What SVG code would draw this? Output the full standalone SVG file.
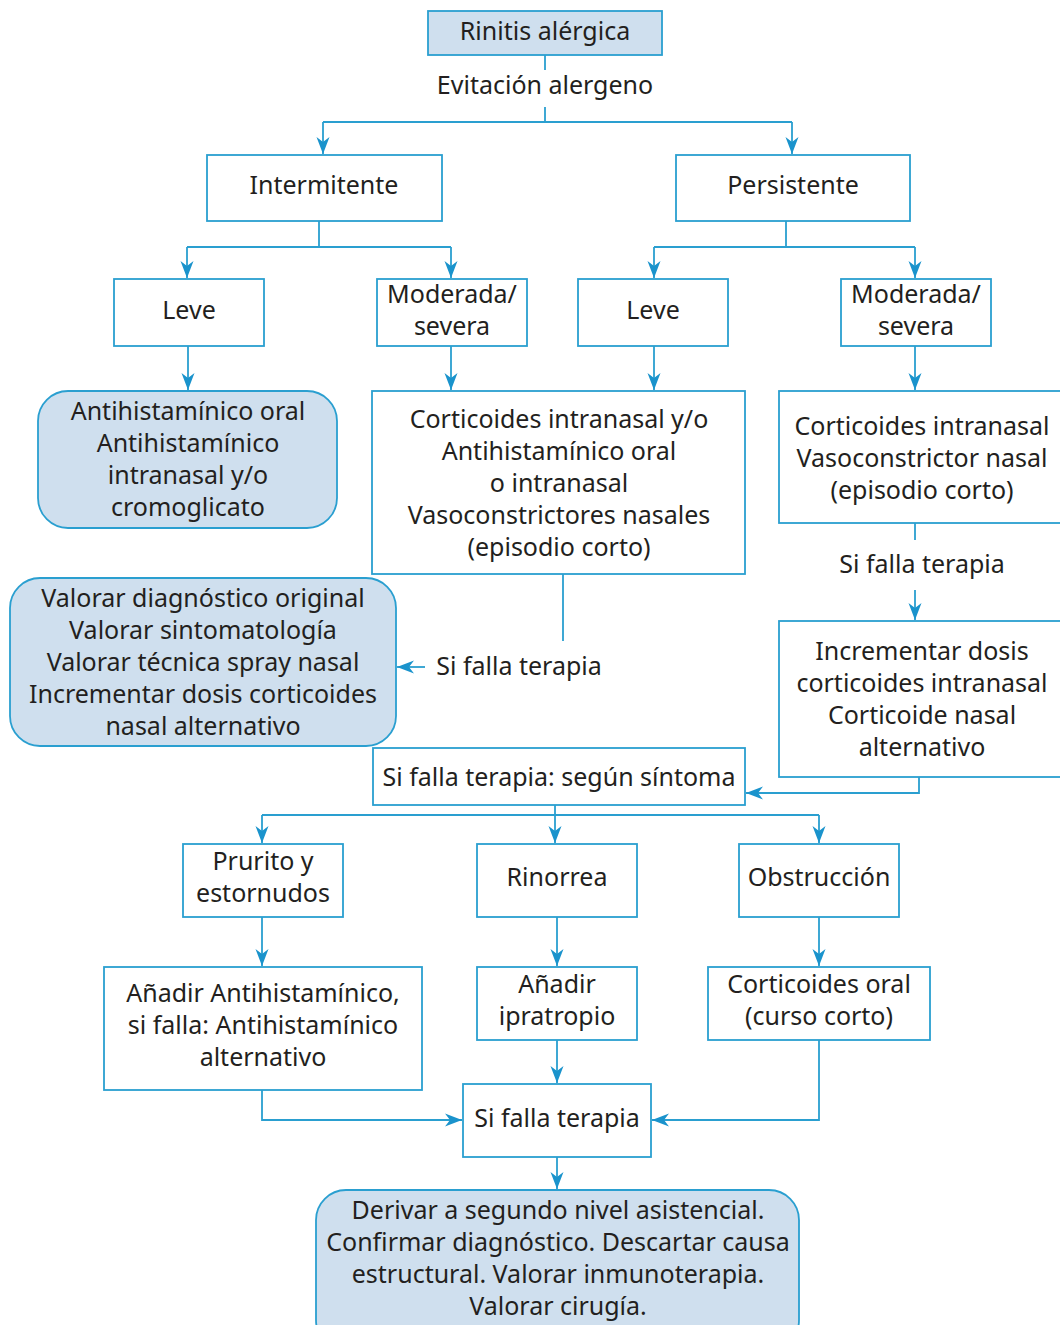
<svg xmlns="http://www.w3.org/2000/svg" width="1060" height="1325" viewBox="0 0 1060 1325">
<style>
.b{fill:#fff;stroke:#2a9fd0;stroke-width:1.8}
.f{fill:#cfdfee;stroke:#2a9fd0;stroke-width:1.8}
text{font-family:"Noto Sans","Open Sans",sans-serif;font-size:25px;fill:#231f20;text-anchor:middle}
.c{fill:none;stroke:#2a9fd0;stroke-width:1.8}
</style>
<defs>
<marker id="a" markerWidth="20" markerHeight="16" refX="17" refY="8" orient="auto" markerUnits="userSpaceOnUse">
<path d="M0,1.5 L17,8 L0,14.5 L5,8 Z" fill="#1a93cc"/>
</marker>
</defs>
<rect width="1060" height="1325" fill="#fff"/>
<g id="connectors">
<path class="c" d="M545,55 V70"/>
<path class="c" d="M545,107 V122"/>
<path class="c" d="M323,122 H792"/>
<path class="c" d="M323,122 V154" marker-end="url(#a)"/>
<path class="c" d="M792,122 V154" marker-end="url(#a)"/>
<path class="c" d="M319,221 V247 M187,247 H451"/>
<path class="c" d="M187,247 V278" marker-end="url(#a)"/>
<path class="c" d="M451,247 V278" marker-end="url(#a)"/>
<path class="c" d="M786,221 V247 M654,247 H915"/>
<path class="c" d="M654,247 V278" marker-end="url(#a)"/>
<path class="c" d="M915,247 V278" marker-end="url(#a)"/>
<path class="c" d="M188,346 V390" marker-end="url(#a)"/>
<path class="c" d="M451,346 V390" marker-end="url(#a)"/>
<path class="c" d="M654,346 V390" marker-end="url(#a)"/>
<path class="c" d="M915,346 V390" marker-end="url(#a)"/>
<path class="c" d="M915,523 V540"/>
<path class="c" d="M915,590 V620" marker-end="url(#a)"/>
<path class="c" d="M919,777 V793 H746" marker-end="url(#a)"/>
<path class="c" d="M563,574 V641"/>
<path class="c" d="M425,667 H397" marker-end="url(#a)"/>
<path class="c" d="M555,805 V815 M262,815 H819"/>
<path class="c" d="M262,815 V843" marker-end="url(#a)"/>
<path class="c" d="M555,815 V843" marker-end="url(#a)"/>
<path class="c" d="M819,815 V843" marker-end="url(#a)"/>
<path class="c" d="M262,917 V966" marker-end="url(#a)"/>
<path class="c" d="M557,917 V966" marker-end="url(#a)"/>
<path class="c" d="M819,917 V966" marker-end="url(#a)"/>
<path class="c" d="M557,1040 V1083" marker-end="url(#a)"/>
<path class="c" d="M262,1090 V1120 H462" marker-end="url(#a)"/>
<path class="c" d="M819,1040 V1120 H652" marker-end="url(#a)"/>
<path class="c" d="M557,1157 V1189" marker-end="url(#a)"/>
</g>
<g id="n-rinitis"><rect class="f" x="428" y="11" width="234" height="44"/><text x="545" y="40">Rinitis alérgica</text></g>
<g id="l-evitacion"><text x="545" y="94">Evitación alergeno</text></g>
<g id="n-intermitente"><rect class="b" x="207" y="155" width="235" height="66"/><text x="324" y="194">Intermitente</text></g>
<g id="n-persistente"><rect class="b" x="676" y="155" width="234" height="66"/><text x="793" y="194">Persistente</text></g>
<g id="n-leve1"><rect class="b" x="114" y="279" width="150" height="67"/><text x="189" y="319">Leve</text></g>
<g id="n-mod1"><rect class="b" x="377" y="279" width="150" height="67"/><text x="452" y="303">Moderada/</text><text x="452" y="335">severa</text></g>
<g id="n-leve2"><rect class="b" x="578" y="279" width="150" height="67"/><text x="653" y="319">Leve</text></g>
<g id="n-mod2"><rect class="b" x="841" y="279" width="150" height="67"/><text x="916" y="303">Moderada/</text><text x="916" y="335">severa</text></g>
<g id="n-antihist"><rect class="f" x="38" y="391" width="299" height="137" rx="30"/><text x="188" y="420">Antihistamínico oral</text><text x="188" y="452">Antihistamínico</text><text x="188" y="484">intranasal y/o</text><text x="188" y="516">cromoglicato</text></g>
<g id="n-cortic1"><rect class="b" x="372" y="391" width="373" height="183"/><text x="559" y="428">Corticoides intranasal y/o</text><text x="559" y="460">Antihistamínico oral</text><text x="559" y="492">o intranasal</text><text x="559" y="524">Vasoconstrictores nasales</text><text x="559" y="556">(episodio corto)</text></g>
<g id="n-cortic2"><rect class="b" x="779" y="391" width="290" height="132"/><text x="922" y="435">Corticoides intranasal</text><text x="922" y="467">Vasoconstrictor nasal</text><text x="922" y="499">(episodio corto)</text></g>
<g id="l-sifalla1"><text x="922" y="573">Si falla terapia</text></g>
<g id="n-incrementar"><rect class="b" x="779" y="621" width="290" height="156"/><text x="922" y="660">Incrementar dosis</text><text x="922" y="692">corticoides intranasal</text><text x="922" y="724">Corticoide nasal</text><text x="922" y="756">alternativo</text></g>
<g id="l-sifalla2"><text x="519" y="675">Si falla terapia</text></g>
<g id="n-valorar"><rect class="f" x="10" y="578" width="386" height="168" rx="30"/><text x="203" y="607">Valorar diagnóstico original</text><text x="203" y="639">Valorar sintomatología</text><text x="203" y="671">Valorar técnica spray nasal</text><text x="203" y="703">Incrementar dosis corticoides</text><text x="203" y="735">nasal alternativo</text></g>
<g id="n-segun"><rect class="b" x="373" y="748" width="372" height="57"/><text x="559" y="786">Si falla terapia: según síntoma</text></g>
<g id="n-prurito"><rect class="b" x="183" y="844" width="160" height="73"/><text x="263" y="870">Prurito y</text><text x="263" y="902">estornudos</text></g>
<g id="n-rinorrea"><rect class="b" x="477" y="844" width="160" height="73"/><text x="557" y="886">Rinorrea</text></g>
<g id="n-obstruccion"><rect class="b" x="739" y="844" width="160" height="73"/><text x="819" y="886">Obstrucción</text></g>
<g id="n-anadir-ah"><rect class="b" x="104" y="967" width="318" height="123"/><text x="263" y="1002">Añadir Antihistamínico,</text><text x="263" y="1034">si falla: Antihistamínico</text><text x="263" y="1066">alternativo</text></g>
<g id="n-ipratropio"><rect class="b" x="477" y="967" width="160" height="73"/><text x="557" y="993">Añadir</text><text x="557" y="1025">ipratropio</text></g>
<g id="n-cort-oral"><rect class="b" x="708" y="967" width="222" height="73"/><text x="819" y="993">Corticoides oral</text><text x="819" y="1025">(curso corto)</text></g>
<g id="n-sifalla3"><rect class="b" x="463" y="1084" width="188" height="73"/><text x="557" y="1127">Si falla terapia</text></g>
<g id="n-derivar"><rect class="f" x="316" y="1190" width="483" height="160" rx="30"/><text x="558" y="1219">Derivar a segundo nivel asistencial.</text><text x="558" y="1251">Confirmar diagnóstico. Descartar causa</text><text x="558" y="1283">estructural. Valorar inmunoterapia.</text><text x="558" y="1315">Valorar cirugía.</text></g>
</svg>
